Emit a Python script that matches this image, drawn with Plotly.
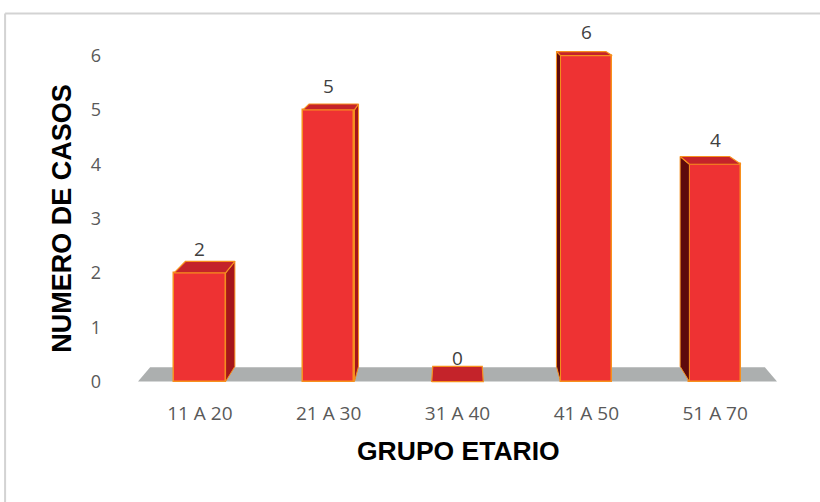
import plotly.graph_objects as go

categories = ["11 A 20", "21 A 30", "31 A 40", "41 A 50", "51 A 70"]
casos = [2, 5, 0, 6, 4]
y_ticks = [0, 1, 2, 3, 4, 5, 6]

# style / geometry settings
bar_w = 0.40
x_range = [-0.48, 4.48]
y_range = [-0.1, 6.6]
vp_y = 8.2            # vanishing point height (data units)
bar_fx, bar_fy = 0.040, 0.034
floor_fx, floor_fy = 0.038, 0.032
front_col = "#EE3233"
edge_col = "#F7901E"
top_col = "#C4232A"
side_r_col = "#A5161B"
side_l_col = "#5E0A0C"
floor_col = "#ACAFAF"

xs = list(range(len(categories)))
vp_x = (len(categories) - 1) / 2


def back(px, py, fx, fy):
    return px + fx * (vp_x - px), py + fy * (vp_y - py)


fig = go.Figure()

# floor (shape drawn below traces, in data coordinates)
br = back(x_range[1], 0, floor_fx, floor_fy)
bl = back(x_range[0], 0, floor_fx, floor_fy)
fig.add_shape(type="path", xref="x", yref="y", layer="below",
              path=f"M {x_range[0]},0 L {x_range[1]},0 L {br[0]},{br[1]} L {bl[0]},{bl[1]} Z",
              fillcolor=floor_col, line=dict(width=0))

# side and top faces
for i, v in zip(xs, casos):
    xl, xr = i - bar_w / 2, i + bar_w / 2
    if i < vp_x and v > 0:
        b0 = back(xr, 0, bar_fx, bar_fy)
        b1 = back(xr, v, bar_fx, bar_fy)
        fig.add_trace(go.Scatter(
            x=[xr, xr, b1[0], b0[0], xr], y=[0, v, b1[1], b0[1], 0],
            fill="toself", fillcolor=side_r_col, mode="lines",
            line=dict(width=1, color=edge_col), hoverinfo="skip", showlegend=False))
    elif i > vp_x and v > 0:
        b0 = back(xl, 0, bar_fx, bar_fy)
        b1 = back(xl, v, bar_fx, bar_fy)
        fig.add_trace(go.Scatter(
            x=[xl, xl, b1[0], b0[0], xl], y=[0, v, b1[1], b0[1], 0],
            fill="toself", fillcolor=side_l_col, mode="lines",
            line=dict(width=1, color=edge_col), hoverinfo="skip", showlegend=False))
    tl = back(xl, v, bar_fx, bar_fy)
    tr = back(xr, v, bar_fx, bar_fy)
    fig.add_trace(go.Scatter(
        x=[xl, xr, tr[0], tl[0], xl], y=[v, v, tr[1], tl[1], v],
        fill="toself", fillcolor=top_col, mode="lines",
        line=dict(width=1.2, color=edge_col), hoverinfo="skip", showlegend=False))

# front faces
fig.add_trace(go.Bar(
    x=xs, y=casos, width=bar_w,
    marker=dict(color=front_col, line=dict(color=edge_col, width=1.5)),
    hoverinfo="skip", showlegend=False))

# data labels
for i, v in zip(xs, casos):
    fig.add_annotation(x=i, y=v, text=str(v), showarrow=False, yanchor="middle",
                       yshift=24, font=dict(family="Open Sans", size=19, color="#404040"))

# axis titles
fig.add_annotation(xref="paper", yref="paper", x=0.5008, y=-0.176, text="GRUPO ETARIO",
                   showarrow=False, xanchor="center", yanchor="middle",
                   font=dict(family="Liberation Sans", size=26.5, color="#000000", weight="bold"))
fig.add_annotation(xref="paper", yref="paper", x=-0.119, y=0.465, text="NUMERO DE CASOS",
                   showarrow=False, textangle=-90, xanchor="center", yanchor="middle",
                   font=dict(family="Liberation Sans", size=27, color="#000000", weight="bold"))

# frame (top and left edges; the rest lies outside the picture)
fig.add_shape(type="line", xref="paper", yref="paper", x0=-0.208, y0=1.026, x1=1.5, y1=1.026,
              line=dict(color="#D3D3D3", width=2), layer="below")
fig.add_shape(type="line", xref="paper", yref="paper", x0=-0.208, y0=1.026, x1=-0.208, y1=-0.5,
              line=dict(color="#D3D3D3", width=2), layer="below")

fig.update_layout(
    width=820, height=502,
    margin=dict(l=138, r=43, t=23, b=115),
    paper_bgcolor="white", plot_bgcolor="white",
    xaxis=dict(range=x_range, tickvals=xs, ticktext=categories, showgrid=False,
               zeroline=False, showline=False, ticks="", ticklabelstandoff=13,
               tickfont=dict(family="Open Sans", size=19, color="#595959")),
    yaxis=dict(range=y_range, tickvals=y_ticks, showgrid=False, zeroline=False,
               showline=False, ticks="", ticklabelstandoff=36,
               tickfont=dict(family="Open Sans", size=18, color="#595959")),
    bargap=0,
)

fig.write_html("out.html")
